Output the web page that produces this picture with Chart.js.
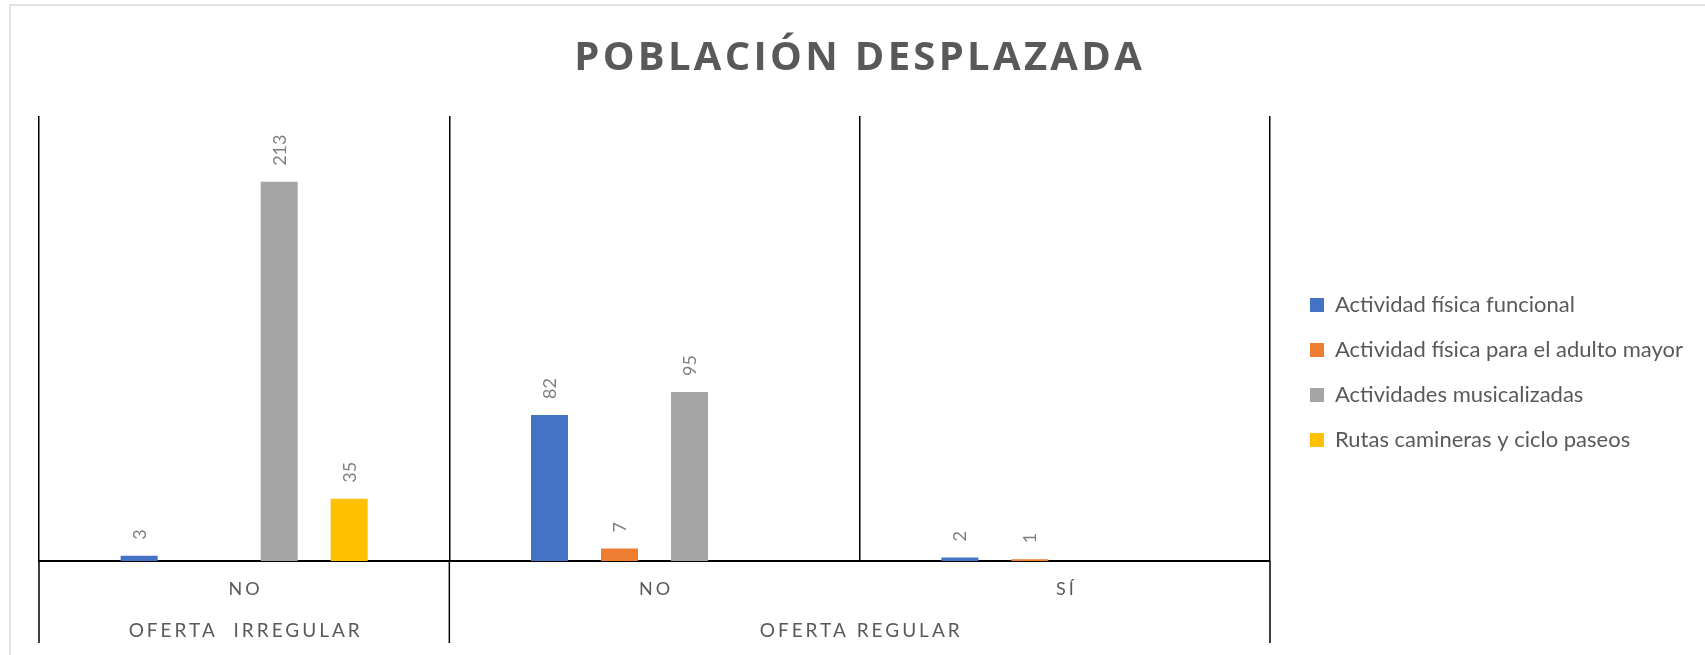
<!DOCTYPE html>
<html>
<head>
<meta charset="utf-8">
<script src="https://cdn.jsdelivr.net/npm/chart.js@4.4.1/dist/chart.umd.min.js"></script>
<style>
  html, body { margin: 0; padding: 0; background: #ffffff; }
  #wrap { width: 1705px; height: 655px; position: relative; }
  canvas { display: block; }
</style>
</head>
<body>
<div id="wrap"><canvas id="c" width="1705" height="655"></canvas></div>
<script>
// ---------- data ----------
const chartTitle = 'POBLACIÓN DESPLAZADA';
const categories = ['NO', 'NO', 'SÍ'];
const groupLabels = ['OFERTA  IRREGULAR', 'OFERTA REGULAR'];
const groupSizes = [1, 2];
const seriesNames = [
  'Actividad física funcional',
  'Actividad física para el adulto mayor',
  'Actividades musicalizadas',
  'Rutas camineras y ciclo paseos'
];
const funcional = [3, 82, 2];
const adultoMayor = [null, 7, 1];
const musicalizadas = [213, 95, null];
const rutas = [35, null, null];
const yMax = 250;

// ---------- styles ----------
const colors = ['#4472C4', '#ED7D31', '#A5A5A5', '#FFC000'];
const textColor = '#595959';
const labelColor = '#7F7F7F';
const W = 1705, H = 655;
const plotLeft = 39, plotRight = 1270, plotTop = 116, plotBottomPad = 94;
const legendFont = { family: 'Lato', size: 22 };
const legendPad = 23, legendBox = 14;
const legendSquareX = 1310, legendFirstRowY = 305;

// measure legend width to place chart area right edge
const mc = document.createElement('canvas').getContext('2d');
mc.font = legendFont.size + 'px ' + legendFont.family;
let maxText = 0;
seriesNames.forEach(n => { maxText = Math.max(maxText, mc.measureText(n).width); });
const legendW = legendPad + legendBox + legendFont.size / 2 + maxText + 10;
const padRight = Math.max(0, W - plotRight - legendW);

const seriesValues = [funcional, adultoMayor, musicalizadas, rutas];

const decorPlugin = {
  id: 'decor',
  beforeDraw(chart) {
    const ctx = chart.ctx;
    ctx.save();
    ctx.fillStyle = '#ffffff';
    ctx.fillRect(0, 0, W, H);
    ctx.strokeStyle = '#D9D9D9';
    ctx.lineWidth = 1.5;
    ctx.strokeRect(10, 5, W + 50, H + 50);
    ctx.restore();
  },
  afterLayout(chart) {
    const lg = chart.legend;
    if (!lg) return;
    const dx = legendSquareX - (lg.left + legendPad);
    lg.left += dx; lg.right += dx;
    const colH = lg.columnSizes && lg.columnSizes[0] ? lg.columnSizes[0].height : 4 * (legendFont.size + legendPad);
    const startY = (lg.top + legendPad + lg.bottom - colH) / 2;
    const dy = legendFirstRowY - (startY + legendFont.size / 2);
    lg.top += dy; lg.bottom += dy;
  },
  afterDraw(chart) {
    const ctx = chart.ctx;
    const xs = chart.scales.x;
    const area = chart.chartArea;
    ctx.save();

    // title
    ctx.fillStyle = textColor;
    ctx.font = 'bold 40px "Open Sans"';
    ctx.letterSpacing = '3.3px';
    ctx.textAlign = 'center';
    ctx.textBaseline = 'alphabetic';
    ctx.fillText(chartTitle, 858 + 1.65, 70);

    // data labels (rotated)
    ctx.letterSpacing = '0px';
    ctx.fillStyle = labelColor;
    ctx.font = '18px Lato';
    ctx.textAlign = 'left';
    ctx.textBaseline = 'alphabetic';
    chart.data.datasets.forEach((ds, di) => {
      const meta = chart.getDatasetMeta(di);
      meta.data.forEach((el, i) => {
        const v = ds.data[i];
        if (v === null || v === undefined) return;
        ctx.save();
        ctx.translate(el.x, el.y - 16);
        ctx.rotate(-Math.PI / 2);
        ctx.fillText(String(v), 0, 18 * 0.36);
        ctx.restore();
      });
    });

    // category labels
    ctx.fillStyle = textColor;
    ctx.font = '18px Lato';
    ctx.letterSpacing = '3px';
    ctx.textAlign = 'center';
    categories.forEach((c, i) => {
      ctx.fillText(c, xs.getPixelForTick(i) + 1.5, 595);
    });

    // group labels + separator lines
    ctx.font = '19px Lato';
    ctx.letterSpacing = '3px';
    ctx.strokeStyle = '#000000';
    ctx.lineWidth = 1.5;
    let start = 0;
    const bounds = [xs.getPixelForValue(-0.5)];
    groupLabels.forEach((g, gi) => {
      const end = start + groupSizes[gi];
      const l = xs.getPixelForValue(start - 0.5);
      const r = xs.getPixelForValue(end - 0.5);
      bounds.push(r);
      ctx.fillText(g, (l + r) / 2 + 1.5, 637);
      start = end;
    });
    bounds.forEach(b => {
      ctx.beginPath();
      ctx.moveTo(b, area.bottom);
      ctx.lineTo(b, 643);
      ctx.stroke();
    });
    ctx.restore();
  }
};

new Chart(document.getElementById('c'), {
  type: 'bar',
  data: {
    labels: categories,
    datasets: seriesNames.map((name, i) => ({
      label: name,
      data: seriesValues[i],
      backgroundColor: colors[i],
      borderWidth: 0,
      categoryPercentage: 0.6824,
      barPercentage: 0.5286
    }))
  },
  options: {
    responsive: false,
    devicePixelRatio: 1,
    animation: false,
    events: [],
    layout: { padding: { top: plotTop, left: plotLeft, bottom: plotBottomPad, right: padRight } },
    scales: {
      x: {
        z: 1,
        grid: { display: true, offset: true, color: '#000000', lineWidth: 1.5, drawTicks: false },
        border: { display: true, color: '#000000', width: 2 },
        ticks: { display: false }
      },
      y: {
        display: false,
        min: 0,
        max: yMax,
        grid: { display: false }
      }
    },
    plugins: {
      title: { display: false },
      tooltip: { enabled: false },
      legend: {
        display: true,
        position: 'right',
        align: 'center',
        labels: {
          font: legendFont,
          color: textColor,
          boxWidth: legendBox,
          boxHeight: legendBox,
          padding: legendPad
        }
      }
    }
  },
  plugins: [decorPlugin]
});
</script>
</body>
</html>
